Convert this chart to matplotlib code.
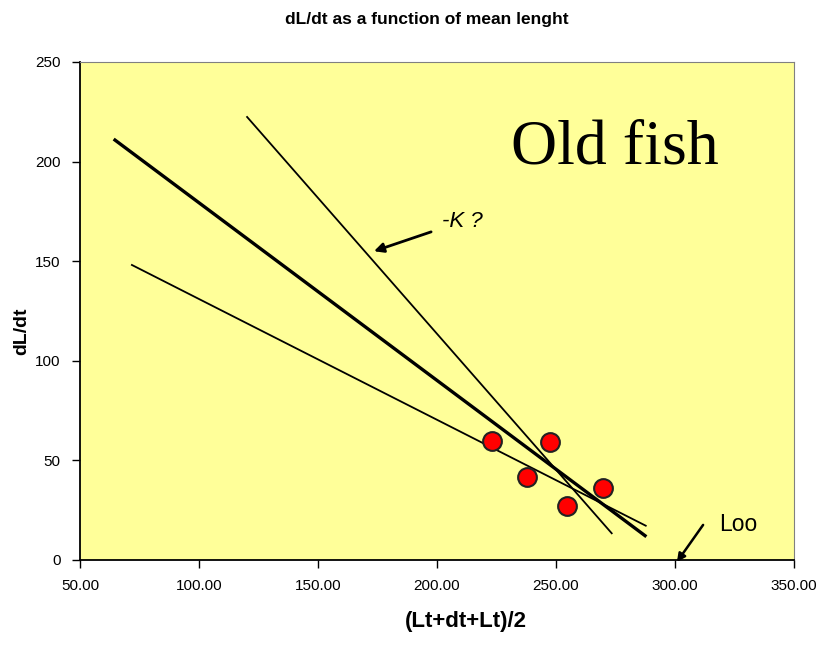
import matplotlib
matplotlib.use("Agg")
import matplotlib.pyplot as plt

# Data
mean_length = [223.2, 247.5, 237.9, 254.6, 269.6]
growth_rate = [59.9, 59.4, 41.5, 27.1, 36.3]

# Fitted lines, as (x0, x1), (y0, y1) endpoints
fit_main_x = [64.7, 287.4]
fit_main_y = [210.8, 12.2]
fit_steep_x = [120.2, 273.4]
fit_steep_y = [222.4, 13.4]
fit_shallow_x = [71.8, 287.7]
fit_shallow_y = [148.1, 17.2]

x_ticks = [50, 100, 150, 200, 250, 300, 350]
y_ticks = [0, 50, 100, 150, 200, 250]

SANS = ["Liberation Sans Narrow", "Liberation Sans", "DejaVu Sans"]
plt.rcParams["font.family"] = SANS

fig = plt.figure(figsize=(8.19, 6.63), dpi=100)
ax = fig.add_axes([0.0977, 0.1554, 0.8718, 0.7511])
ax.set_facecolor("#FFFF99")

ax.plot(fit_steep_x, fit_steep_y, color="black", lw=1.3)
ax.plot(fit_shallow_x, fit_shallow_y, color="black", lw=1.3)
ax.plot(fit_main_x, fit_main_y, color="black", lw=2.4)
ax.plot(mean_length, growth_rate, "o", color="#FF0000", mec="#222222",
        mew=1.5, ms=13.5, ls="none", zorder=5)

ax.set_xlim(50, 350)
ax.set_ylim(0, 250)
ax.set_xticks(x_ticks)
ax.set_xticklabels([f"{v:.2f}" for v in x_ticks])
ax.set_yticks(y_ticks)
ax.tick_params(direction="out", length=6, width=1, labelsize=11, pad=8)

for side in ["top", "right"]:
    ax.spines[side].set_color("#808080")
for side in ["left", "bottom"]:
    ax.spines[side].set_color("black")
    ax.spines[side].set_linewidth(1.3)

ax.text(0.749, 0.827, "Old fish", transform=ax.transAxes, ha="center",
        va="center", fontsize=46, family="Liberation Serif")

ax.annotate("-K ?", xy=(173.5, 155), xytext=(202, 170),
            fontsize=16, style="italic", va="center",
            arrowprops=dict(arrowstyle="-|>", color="black", lw=2,
                            mutation_scale=14, shrinkA=6, shrinkB=0))

# Loo: arrow pointing at the x-axis intercept
ax.annotate("", xy=(300.8, -1), xytext=(311.8, 17.6), annotation_clip=False,
            arrowprops=dict(arrowstyle="-|>", color="black", lw=1.8,
                            mutation_scale=12, shrinkA=0, shrinkB=0))
ax.text(318.5, 17.6, "Loo", fontsize=16.5, va="center", ha="left")

fig.text(0.521, 0.97, "dL/dt as a function of mean lenght", ha="center",
         va="center", fontsize=12.5, weight="bold")
fig.text(0.569, 0.062, "(Lt+dt+Lt)/2", ha="center", va="center",
         fontsize=16, weight="bold")
fig.text(0.027, 0.50, "dL/dt", ha="center", va="center", rotation=90,
         fontsize=14, weight="bold")

fig.savefig("out.png", dpi=100)
